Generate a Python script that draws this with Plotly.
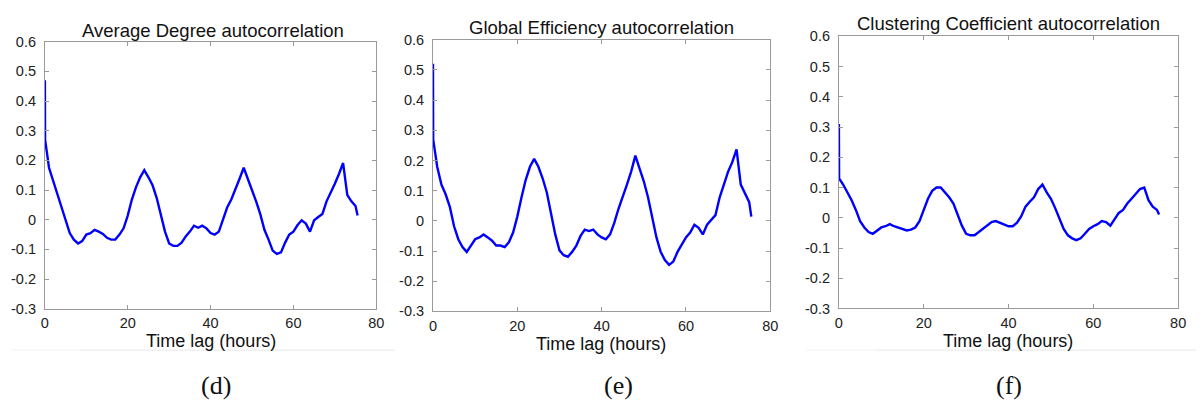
import plotly.graph_objects as go

# ---------------- data ----------------
hours = [0, 0.05] + list(range(1, 76)) + [75.5]

avg_degree = [0.47, 0.27,
    0.175, 0.13, 0.084, 0.046, -0.002, -0.045, -0.067, -0.080, -0.072, -0.050,
    -0.045, -0.034, -0.040, -0.048, -0.061, -0.067, -0.067, -0.050, -0.029, 0.014,
    0.068, 0.110, 0.143, 0.167, 0.143, 0.116, 0.073, 0.014, -0.040, -0.080,
    -0.088, -0.088, -0.077, -0.056, -0.040, -0.020, -0.027, -0.020, -0.029, -0.045,
    -0.050, -0.040, 0.003, 0.041, 0.068, 0.100, 0.138, 0.175, 0.138, 0.100,
    0.062, 0.019, -0.034, -0.067, -0.104, -0.115, -0.110, -0.077, -0.050, -0.040,
    -0.018, -0.002, -0.013, -0.040, -0.002, 0.009, 0.019, 0.062, 0.089, 0.121,
    0.154, 0.191, 0.084, 0.062, 0.046, 0.014]

global_eff = [0.52, 0.27,
    0.179, 0.120, 0.088, 0.046, -0.018, -0.061, -0.087, -0.103, -0.082, -0.061,
    -0.055, -0.045, -0.055, -0.066, -0.082, -0.082, -0.087, -0.071, -0.039, 0.014,
    0.078, 0.136, 0.179, 0.205, 0.179, 0.141, 0.094, 0.019, -0.045, -0.098,
    -0.114, -0.119, -0.103, -0.082, -0.050, -0.029, -0.034, -0.029, -0.045, -0.055,
    -0.061, -0.045, -0.007, 0.040, 0.078, 0.120, 0.163, 0.216, 0.173, 0.131,
    0.078, 0.014, -0.055, -0.103, -0.130, -0.146, -0.135, -0.103, -0.077, -0.055,
    -0.039, -0.013, -0.023, -0.045, -0.013, 0.003, 0.019, 0.078, 0.120, 0.163,
    0.195, 0.237, 0.120, 0.088, 0.062, 0.014]

clustering = [0.31, 0.13,
    0.110, 0.084, 0.058, 0.026, -0.011, -0.032, -0.047, -0.053, -0.042, -0.032,
    -0.028, -0.021, -0.028, -0.032, -0.037, -0.042, -0.039, -0.032, -0.011, 0.026,
    0.063, 0.089, 0.100, 0.100, 0.084, 0.068, 0.047, 0.011, -0.026, -0.053,
    -0.058, -0.058, -0.047, -0.037, -0.028, -0.014, -0.011, -0.016, -0.021, -0.028,
    -0.028, -0.016, 0.005, 0.037, 0.053, 0.068, 0.095, 0.110, 0.084, 0.063,
    0.032, -0.005, -0.037, -0.058, -0.068, -0.074, -0.068, -0.053, -0.037, -0.028,
    -0.021, -0.011, -0.014, -0.026, -0.005, 0.016, 0.026, 0.047, 0.063, 0.079,
    0.095, 0.100, 0.058, 0.037, 0.026, 0.011]

titles = ["Average Degree autocorrelation",
          "Global Efficiency autocorrelation",
          "Clustering Coefficient autocorrelation"]
captions = ["(d)", "(e)", "(f)"]
x_label = "Time lag (hours)"
x_ticks = [0, 20, 40, 60, 80]
x_tick_text = ["0", "20", "40", "60", "80"]
y_ticks = [-0.3, -0.2, -0.1, 0, 0.1, 0.2, 0.3, 0.4, 0.5, 0.6]
y_tick_text = ["-0.3", "-0.2", "-0.1", "0", "0.1", "0.2", "0.3", "0.4", "0.5", "0.6"]

# ---------------- layout geometry (pixels) ----------------
W, H = 1204, 410
panels = [  # left, right, top, bottom (px)
    (41.3, 376.0, 35.0, 313.0),
    (433.3, 774.0, 33.0, 315.7),
    (843.3, 1186.0, 29.5, 312.7),
]
title_pos = [(211, 23.5), (604, 20), (1015, 16.5)]
xlab_pos = [(209, 347), (603, 349.5), (1014, 346.5)]
cap_pos = [(214, 393), (621, 393), (1015, 393)]

series = [avg_degree, global_eff, clustering]

fig = go.Figure()
font_main = "Liberation Sans"
axis_col = "#9a9a9a"

annotations = []
for i, (vals, (l, r, t, b)) in enumerate(zip(series, panels)):
    xa = "x" if i == 0 else f"x{i+1}"
    ya = "y" if i == 0 else f"y{i+1}"
    fig.add_trace(go.Scatter(x=hours, y=vals, mode="lines",
                             line=dict(color="#0000ff", width=2.4),
                             xaxis=xa, yaxis=ya, showlegend=False,
                             hoverinfo="skip"))
    common = dict(showgrid=False, zeroline=False, showline=True,
                  linecolor=axis_col, linewidth=1, mirror="ticks",
                  ticks="inside", ticklen=4, tickcolor=axis_col,
                  tickfont=dict(family=font_main, size=14.5, color="#222"))
    fig.layout[f"xaxis{'' if i == 0 else i+1}"] = dict(
        domain=[l / W, r / W], anchor=ya, range=[0, 80],
        tickvals=x_ticks, ticktext=x_tick_text, ticklabelstandoff=1, **common)
    fig.layout[f"yaxis{'' if i == 0 else i+1}"] = dict(
        domain=[1 - b / H, 1 - t / H], anchor=xa, range=[-0.3, 0.6],
        tickvals=y_ticks, ticktext=y_tick_text, ticklabelstandoff=5, **common)

    tx, ty = title_pos[i]
    annotations.append(dict(text=titles[i], x=tx / W, y=1 - ty / H,
                            xref="paper", yref="paper", showarrow=False,
                            xanchor="center", yanchor="middle",
                            font=dict(family=font_main, size=18.5, color="#111")))
    lx, ly = xlab_pos[i]
    annotations.append(dict(text=x_label, x=lx / W, y=1 - ly / H,
                            xref="paper", yref="paper", showarrow=False,
                            xanchor="center", yanchor="middle",
                            font=dict(family=font_main, size=18, color="#111")))
    cx, cy = cap_pos[i]
    annotations.append(dict(text=captions[i], x=cx / W, y=1 - cy / H,
                            xref="paper", yref="paper", showarrow=False,
                            xanchor="center", yanchor="middle",
                            font=dict(family="Liberation Serif", size=26, color="#111")))

shapes = [
    dict(type="line", xref="paper", yref="paper", x0=8 / W, x1=77 / W,
         y0=1 - 356 / H, y1=1 - 356 / H, line=dict(color="#f3f3f3", width=1)),
    dict(type="line", xref="paper", yref="paper", x0=77 / W, x1=395 / W,
         y0=1 - 356 / H, y1=1 - 356 / H, line=dict(color="#e8e8e8", width=1)),
    dict(type="line", xref="paper", yref="paper", x0=810 / W, x1=879 / W,
         y0=1 - 356 / H, y1=1 - 356 / H, line=dict(color="#f3f3f3", width=1)),
    dict(type="line", xref="paper", yref="paper", x0=879 / W, x1=1.0,
         y0=1 - 356 / H, y1=1 - 356 / H, line=dict(color="#e8e8e8", width=1)),
]

fig.update_layout(width=W, height=H, margin=dict(l=0, r=0, t=0, b=0),
                  paper_bgcolor="white", plot_bgcolor="white",
                  annotations=annotations, shapes=shapes)

fig.write_html("out.html", config={"displayModeBar": False})
